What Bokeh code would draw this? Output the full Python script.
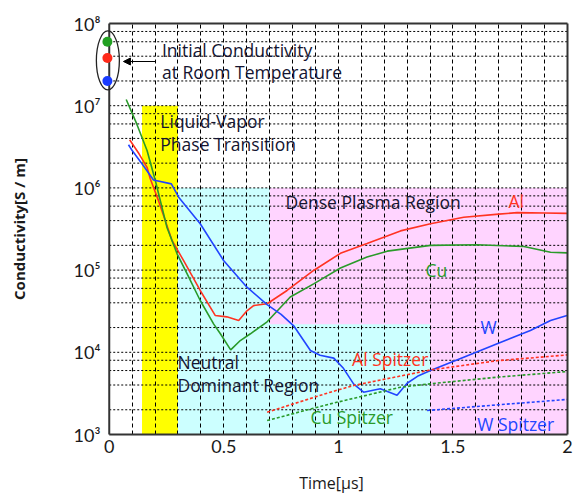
from bokeh.plotting import figure
from bokeh.models import FixedTicker, Label, Arrow, NormalHead, Range1d
from bokeh.embed import file_html
from bokeh.resources import INLINE

# ---- data ----
al_t = [0.089, 0.13, 0.165, 0.179, 0.215, 0.274, 0.324, 0.397, 0.463, 0.513, 0.565, 0.601, 0.63, 0.689,
        0.776, 0.892, 1.009, 1.125, 1.271, 1.402, 1.547, 1.70, 1.78, 1.90, 1.998]
al_s = [3.85e6, 2.6e6, 1.78e6, 1.29e6, 7.0e5, 2.29e5, 1.31e5, 5.65e4, 2.8e4, 2.7e4, 2.44e4, 3.2e4, 3.7e4, 3.9e4,
        5.65e4, 9.9e4, 1.6e5, 2.1e5, 3.0e5, 3.66e5, 4.4e5, 4.8e5, 5.0e5, 4.95e5, 4.9e5]

cu_t = [0.074, 0.12, 0.165, 0.201, 0.252, 0.296, 0.34, 0.397, 0.456, 0.485, 0.53, 0.572, 0.616, 0.689,
        0.79, 0.892, 1.009, 1.125, 1.213, 1.402, 1.606, 1.81, 1.926, 1.998]
cu_s = [1.19e7, 6.0e6, 2.85e6, 1.23e6, 3.3e5, 1.58e5, 9.0e4, 4.27e4, 2.2e4, 1.68e4, 1.07e4, 1.39e4, 1.68e4, 2.35e4,
        4.7e4, 6.8e4, 1.06e5, 1.44e5, 1.7e5, 2.0e5, 2.03e5, 1.94e5, 1.65e5, 1.62e5]

w_t = [0.084, 0.10, 0.15, 0.193, 0.271, 0.303, 0.397, 0.499, 0.601, 0.689, 0.75, 0.805, 0.878, 0.92, 0.98,
       1.02, 1.067, 1.11, 1.183, 1.256, 1.30, 1.35, 1.402, 1.547, 1.693, 1.838, 1.926, 1.998]
w_s = [3.35e6, 2.85e6, 1.85e6, 1.25e6, 1.12e6, 7.7e5, 3.66e5, 1.31e5, 6.2e4, 3.8e4, 2.9e4, 2.1e4, 1.05e4, 9.2e3, 8.5e3,
       6.5e3, 4.1e3, 3.27e3, 3.6e3, 3.0e3, 4.2e3, 5.2e3, 6.0e3, 8.7e3, 1.27e4, 1.84e4, 2.44e4, 2.8e4]

al_spitzer_t = [0.689, 0.965, 1.067, 1.402, 1.693, 2.0]
al_spitzer_s = [1.87e3, 3.27e3, 3.95e3, 6.1e3, 7.9e3, 9.3e3]
cu_spitzer_t = [0.689, 0.965, 1.271, 1.402, 1.70, 2.0]
cu_spitzer_s = [1.48e3, 2.36e3, 3.76e3, 4.14e3, 5.0e3, 5.84e3]
w_spitzer_t = [1.387, 1.70, 2.0]
w_spitzer_s = [1.96e3, 2.3e3, 2.67e3]

initial_t = [-0.008, -0.008, -0.008]
initial_s = [6.0e7, 3.8e7, 2.0e7]
initial_colors = ["#22a022", "#ff2a1a", "#1a3cff"]

x_ticks = [0, 0.5, 1, 1.5, 2]
x_tick_labels = ["0", "0.5", "1", "1.5", "2"]
y_ticks = [1e3, 1e4, 1e5, 1e6, 1e7, 1e8]
y_tick_labels = ["10³", "10⁴", "10⁵", "10⁶", "10⁷", "10⁸"]

x_grid_vals = [round(0.1 * i, 2) for i in range(1, 20)]
y_grid_vals = [m * 10 ** e for e in range(3, 8) for m in (1, 2, 4, 6, 8)][1:]

# regions: (left, right, bottom, top, color)
regions = [
    (0.143, 0.30, 1e3, 1e7, "#ffff00"),
    (0.30, 1.40, 1e3, 1e6, "#ccffff"),
    (0.70, 2.0, 2.2e4, 1e6, "#ffd4ff"),
    (1.40, 2.0, 1e3, 2.2e4, "#ffd4ff"),
]

RED = "#ff3322"
GREEN = "#2a9a2a"
BLUE = "#2244ff"
TXT = "#141430"
FONT = "Open Sans"
FRAME = "#333333"

X0 = -0.06  # small blank margin left of t=0 so the marker ellipse is not clipped

p = figure(frame_width=472, frame_height=411, y_axis_type="log",
           x_range=Range1d(X0, 2), y_range=Range1d(1e3, 1e8),
           output_backend="svg", toolbar_location=None,
           min_border_left=95, min_border_top=23, min_border_right=8, min_border_bottom=56,
           background_fill_color="white", border_fill_color="white")

for (l, r, b, t, c) in regions:
    p.quad(left=[l], right=[r], bottom=[b], top=[t], fill_color=c, line_color=None, level="image")

# grids
p.xgrid.ticker = FixedTicker(ticks=x_grid_vals)
p.xgrid.grid_line_color = "black"
p.xgrid.grid_line_dash = "4 3"
p.xgrid.grid_line_width = 1
p.ygrid.visible = False
n = len(y_grid_vals)
p.segment(x0=[0] * n, x1=[2] * n, y0=y_grid_vals, y1=y_grid_vals,
          line_color="black", line_dash="2 2", line_width=1)

# lines
p.line(al_t, al_s, line_color=RED, line_width=1.6)
p.line(cu_t, cu_s, line_color=GREEN, line_width=1.6)
p.line(w_t, w_s, line_color=BLUE, line_width=1.6)
p.line(al_spitzer_t, al_spitzer_s, line_color=RED, line_width=1.6, line_dash="3 2")
p.line(cu_spitzer_t, cu_spitzer_s, line_color=GREEN, line_width=1.6, line_dash="3 2")
p.line(w_spitzer_t, w_spitzer_s, line_color=BLUE, line_width=1.6, line_dash="3 2")

# plot-area border starting at t=0
p.segment(x0=[0, 0, 0, 2], x1=[2, 2, 0, 2], y0=[1e3, 1e8, 1e3, 1e3], y1=[1e3, 1e8, 1e8, 1e8],
          line_color=FRAME, line_width=2, level="overlay")

# initial conductivity markers
p.scatter(initial_t, initial_s, size=10, fill_color=initial_colors, line_color=None, level="overlay")
p.ellipse(x=[-0.006], y=[3.55e7], width=23, height=59, width_units="screen", height_units="screen",
          fill_color=None, line_color="#222222", line_width=1.3, level="overlay")
p.add_layout(Arrow(end=NormalHead(size=7, fill_color="black", line_color="black"),
                   x_start=0.2, y_start=3.45e7, x_end=0.062, y_end=3.45e7, line_color="black", line_width=1.2))

def lab(x, y, text, color=TXT, size="17.5px"):
    p.add_layout(Label(x=x, y=y, text=text, text_color=color, text_font=FONT, text_font_size=size,
                       text_baseline="middle", text_align="left"))

lab(0.230, 4.7e7, "Initial Conductivity")
lab(0.230, 2.56e7, "at Room Temperature")
lab(0.223, 6.6e6, "Liquid-Vapor")
lab(0.223, 3.44e6, "Phase Transition")
lab(0.769, 6.7e5, "Dense Plasma Region")
lab(0.298, 7.6e3, "Neutral")
lab(0.298, 3.95e3, "Dominant Region")
lab(1.742, 7.0e5, "Al", RED)
lab(1.38, 9.9e4, "Cu", GREEN)
lab(1.62, 2.02e4, "W", BLUE)
lab(1.06, 8.4e3, "Al Spitzer", RED)
lab(0.878, 1.62e3, "Cu Spitzer", GREEN)
lab(1.606, 1.35e3, "W Spitzer", BLUE)

# axes
p.xaxis.ticker = FixedTicker(ticks=x_ticks)
p.xaxis.major_label_overrides = {t: s for t, s in zip(x_ticks, x_tick_labels)}
p.yaxis.ticker = FixedTicker(ticks=y_ticks)
p.yaxis.major_label_overrides = {t: s for t, s in zip(y_ticks, y_tick_labels)}
for ax in (p.xaxis, p.yaxis):
    ax.major_tick_out = 0
    ax.major_tick_in = 0
    ax.minor_tick_out = 0
    ax.minor_tick_in = 0
    ax.axis_line_color = None
    ax.major_label_text_font = "Lato"
    ax.major_label_text_font_size = "18px"
    ax.major_label_text_color = "#1a1a1a"
    ax.axis_label_text_font = "Open Sans"
    ax.axis_label_text_font_style = "bold"
    ax.axis_label_text_font_size = "15px"
    ax.axis_label_text_color = "#1a1a1a"

p.xaxis.major_label_standoff = 5
p.yaxis.major_label_standoff = -5
p.xaxis.axis_label = "Time[μs]"
p.xaxis.axis_label_text_font_style = "normal"
p.xaxis.axis_label_text_font_size = "16px"
p.xaxis.axis_label_standoff = 16
p.yaxis.axis_label = "Conductivity[S / m]"
p.yaxis.axis_label_standoff = 42

p.outline_line_color = None

open("out.html", "w").write(file_html(p, INLINE))
